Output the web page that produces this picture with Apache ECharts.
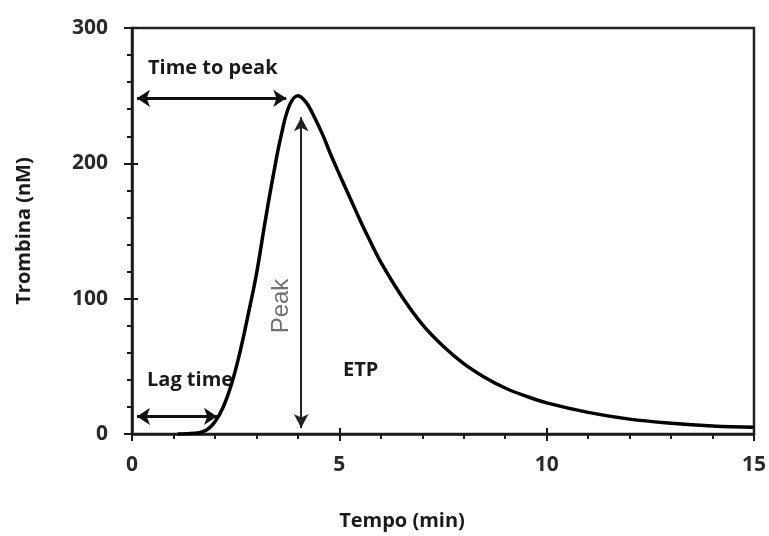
<!DOCTYPE html>
<html>
<head>
<meta charset="utf-8">
<script src="https://cdn.jsdelivr.net/npm/echarts@6/dist/echarts.min.js"></script>
<style>
  html, body { margin: 0; padding: 0; background: #fff; }
  #main { width: 769px; height: 536px; }
</style>
</head>
<body>
<div id="main"></div>
<script>
// tempo (min) e trombina (nM)
const tempo = [1.1, 1.5, 1.8, 2.0, 2.2, 2.4, 2.6, 2.8, 3.0, 3.2, 3.4, 3.6, 3.8, 4.0,
  4.2, 4.4, 4.6, 4.8, 5.0, 5.25, 5.5, 5.75, 6.0, 6.5, 7.0, 7.5, 8.0, 8.5, 9.0, 9.5,
  10, 11, 12, 13, 14, 15]
const trombina = [0, 0.5, 3, 9, 20, 37, 60, 88, 118, 155, 190, 221, 243, 250,
  245, 234, 221, 206, 192, 175, 158, 142, 127, 102, 81, 65, 52, 42, 34, 28,
  23, 16, 11, 8, 6, 5]

const xTicks = [0, 5, 10, 15]
const yTicks = [0, 100, 200, 300]

// setas: tempo até o pico, lag time, pico
const timeToPeak = [[0.12, 248], [3.72, 248]]
const lagTime = [[0.12, 13], [2.05, 13]]
const peakArrow = [[4.08, 4.5], [4.08, 234]]

const myChart = echarts.init(document.getElementById('main'))

const font = '"Open Sans", "DejaVu Sans", sans-serif'
const ink = '#1a1a1a'

const option = {
  backgroundColor: '#fff',
  animation: false,
  grid: {
    show: true,
    left: 132,
    right: 12,
    top: 28,
    bottom: 100,
    borderColor: '#222',
    borderWidth: 2.5,
    backgroundColor: 'transparent'
  },
  xAxis: [
    {
      type: 'value',
      min: xTicks[0],
      max: xTicks[xTicks.length - 1],
      interval: 5,
      name: 'Tempo (min)',
      nameLocation: 'middle',
      nameGap: 77,
      nameTextStyle: { fontFamily: font, fontWeight: 'bold', fontSize: 20, color: ink, padding: [0, 82, 0, 0] },
      axisLine: { lineStyle: { color: ink, width: 2.5 } },
      axisTick: { show: true, inside: false, length: 7, lineStyle: { color: ink, width: 2 } },
      minorTick: { show: true, splitNumber: 5, length: 5, lineStyle: { color: ink, width: 2 } },
      splitLine: { show: false },
      axisLabel: { fontFamily: font, fontWeight: 'bold', fontSize: 21, color: '#2a2a2a', margin: 21 }
    },
    {
      type: 'value',
      min: xTicks[0],
      max: xTicks[xTicks.length - 1],
      interval: 5,
      position: 'bottom',
      axisLine: { show: false },
      axisTick: { show: true, inside: true, length: 6, lineStyle: { color: ink, width: 2 } },
      splitLine: { show: false },
      axisLabel: { show: false }
    }
  ],
  yAxis: [
    {
      type: 'value',
      min: yTicks[0],
      max: yTicks[yTicks.length - 1],
      interval: 100,
      name: 'Trombina (nM)',
      nameLocation: 'middle',
      nameRotate: 90,
      nameGap: 98,
      nameTextStyle: { fontFamily: font, fontWeight: 'bold', fontSize: 20, color: ink },
      axisLine: { show: true, lineStyle: { color: ink, width: 2.5 } },
      axisTick: { show: true, inside: false, length: 8, lineStyle: { color: ink, width: 2 } },
      minorTick: { show: true, splitNumber: 5, length: 5, lineStyle: { color: ink, width: 2 } },
      splitLine: { show: false },
      axisLabel: { fontFamily: font, fontWeight: 'bold', fontSize: 21, color: '#2a2a2a', margin: 24 }
    },
    {
      type: 'value',
      min: yTicks[0],
      max: yTicks[yTicks.length - 1],
      interval: 100,
      position: 'left',
      axisLine: { show: false },
      axisTick: { show: true, inside: true, length: 6, lineStyle: { color: ink, width: 2 } },
      splitLine: { show: false },
      axisLabel: { show: false }
    }
  ],
  series: [
    {
      type: 'line',
      data: tempo.map((t, i) => [t, trombina[i]]),
      smooth: 0.4,
      showSymbol: false,
      lineStyle: { color: '#000', width: 3.5 },
      markLine: {
        silent: true,
        symbol: ['arrow', 'arrow'],
        symbolSize: [13, 13],
        label: { show: false },
        emphasis: { disabled: true },
        data: [
          [
            { coord: timeToPeak[0], lineStyle: { color: '#111', width: 3, type: 'solid' } },
            { coord: timeToPeak[1] }
          ],
          [
            { coord: lagTime[0], lineStyle: { color: '#111', width: 3, type: 'solid' } },
            { coord: lagTime[1] }
          ],
          [
            { coord: peakArrow[0], symbolSize: [11, 14], lineStyle: { color: '#222', width: 2, type: 'solid' } },
            { coord: peakArrow[1], symbolSize: [11, 14] }
          ]
        ]
      }
    }
  ],
  graphic: [
    {
      type: 'text', x: 148, y: 68,
      style: { text: 'Time to peak', font: 'bold 20px ' + font, fill: ink, textVerticalAlign: 'middle' }
    },
    {
      type: 'text', x: 147, y: 380,
      style: { text: 'Lag time', font: 'bold 20px ' + font, fill: ink, textVerticalAlign: 'middle' }
    },
    {
      type: 'text', x: 343, y: 370,
      style: { text: 'ETP', font: 'bold 20px ' + font, fill: ink, textVerticalAlign: 'middle' }
    },
    {
      type: 'text', x: 281, y: 306, rotation: Math.PI / 2,
      style: { text: 'Peak', font: '24px "Liberation Sans", Arial, sans-serif', fill: '#707070', textAlign: 'center', textVerticalAlign: 'middle' }
    }
  ]
}

myChart.setOption(option)
</script>
</body>
</html>
